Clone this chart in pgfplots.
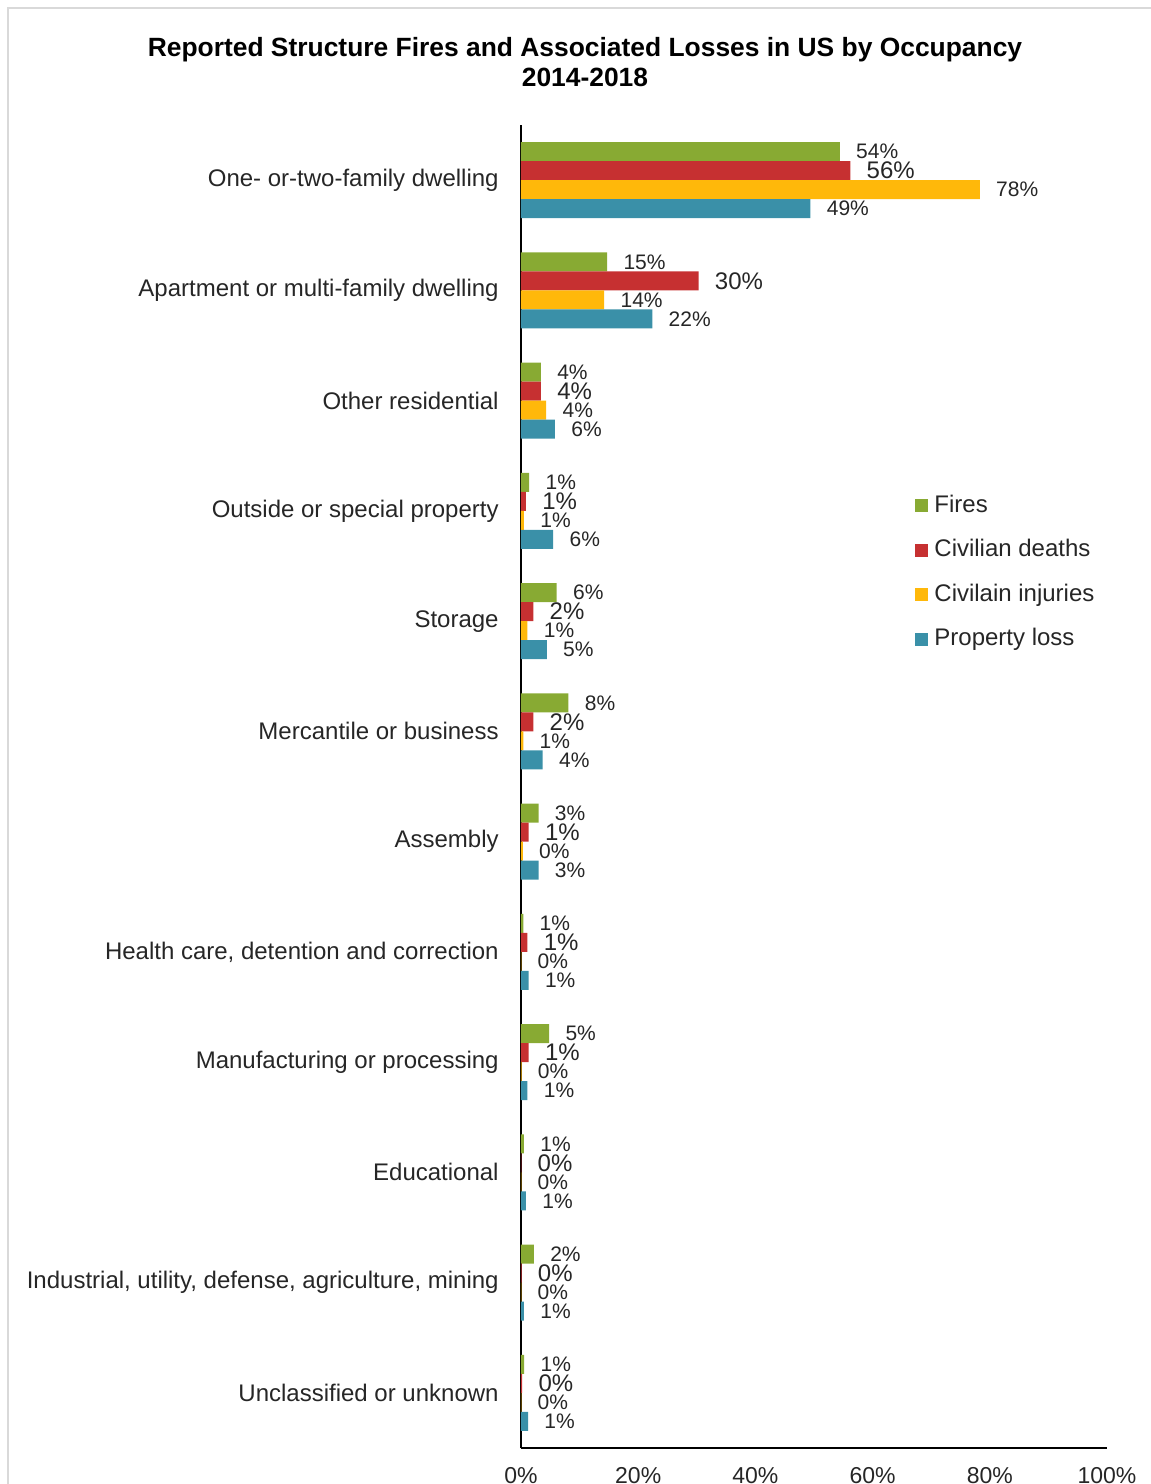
\documentclass[border=0pt]{standalone}
\usepackage{fontspec}
\setmainfont{Liberation Sans}
\usepackage{pgfplots}
\usepackage{pgfplotstable}
\pgfplotsset{compat=1.18}
\definecolor{cF}{HTML}{88AA33}
\definecolor{cD}{HTML}{C63031}
\definecolor{cI}{HTML}{FFB80A}
\definecolor{cP}{HTML}{3A90A8}
\definecolor{txt}{HTML}{262626}
\definecolor{frame}{HTML}{D9D9D9}

\pgfplotstableread{
x y l
54.4 11.2585 54
14.7 10.2585 15
3.4 9.2585 4
1.4 8.2585 1
6.1 7.2585 6
8.1 6.2585 8
3.0 5.2585 3
0.4 4.2585 1
4.8 3.2585 5
0.5 2.2585 1
2.2 1.2585 2
0.55 0.2585 1
}\fires
\pgfplotstableread{
x y l
56.2 11.0862 56
30.3 10.0862 30
3.4 9.0862 4
0.85 8.0862 1
2.1 7.0862 2
2.1 6.0862 2
1.3 5.0862 1
1.1 4.0862 1
1.3 3.0862 1
0.05 2.0862 0
0.1 1.0862 0
0.2 0.0862 0
}\deaths
\pgfplotstableread{
x y l
78.3 10.9138 78
14.2 9.9138 14
4.3 8.9138 4
0.5 7.9138 1
1.1 6.9138 1
0.4 5.9138 1
0.3 4.9138 0
0.05 3.9138 0
0.1 2.9138 0
0.05 1.9138 0
0.05 0.9138 0
0.05 -0.0862 0
}\injuries
\pgfplotstableread{
x y l
49.4 10.7415 49
22.4 9.7415 22
5.8 8.7415 6
5.5 7.7415 6
4.4 6.7415 5
3.7 5.7415 4
3.0 4.7415 3
1.3 3.7415 1
1.1 2.7415 1
0.85 1.7415 1
0.5 0.7415 1
1.2 -0.2585 1
}\property

\pgfplotsset{sqlegend/.style={legend image code/.code={\fill[##1,draw=none] (0pt,-3.25pt) rectangle (6.5pt,3.25pt);}}}

\begin{document}
\begin{tikzpicture}
\useasboundingbox (0,0) rectangle (575.5pt,-742pt);
\draw[color=frame, line width=1pt] (4pt,-4pt) rectangle (600pt,-800pt);
\node[anchor=base, font=\bfseries\fontsize{13.2}{15}\selectfont] at (292.5pt,-28pt) {Reported Structure Fires and Associated Losses in US by Occupancy};
\node[anchor=base, font=\bfseries\fontsize{13.2}{15}\selectfont] at (292.5pt,-43pt) {2014-2018};
\begin{axis}[
  at={(260.5pt,-724pt)}, anchor=south west,
  scale only axis, width=293pt, height=661.5pt,
  xmin=0, xmax=100, ymin=-0.5, ymax=11.5,
  clip=false,
  xbar, bar width=9.5pt, bar shift=0pt,
  axis lines=left, axis line style={-, line width=1pt, black},
  major tick length=0pt,
  xtick={0,20,40,60,80,100},
  xticklabel={\pgfmathprintnumber{\tick}\%},
  /pgf/number format/assume math mode=true,
  xticklabel style={font=\fontsize{11.5}{13}\selectfont, text=txt, anchor=north, inner sep=0pt, yshift=-9.5pt},
  ytick={0,...,11},
  yticklabels={Unclassified or unknown, {Industrial, utility, defense, agriculture, mining}, Educational, Manufacturing or processing, {Health care, detention and correction}, Assembly, Mercantile or business, Storage, Outside or special property, Other residential, Apartment or multi-family dwelling, One- or-two-family dwelling},
  yticklabel style={font=\fontsize{12}{14}\selectfont, text=txt, anchor=east, inner sep=0pt, xshift=-11pt},
  point meta=explicit symbolic,
  nodes near coords={\pgfplotspointmeta\%},
  every node near coord/.append style={anchor=west, inner sep=0pt, xshift=8pt, text=txt, font=\fontsize{10.5}{12}\selectfont},
  legend style={at={(0.6724,0.7211)}, anchor=north west, draw=none, fill=none, inner sep=0pt,
    row sep=10.75pt, column sep=3pt, font=\fontsize{12}{14}\selectfont,
    nodes={inner sep=0pt, text height=9pt, text depth=2.5pt, text=txt}},
  legend cell align=left,
]
\addplot[fill=cF, draw=none, sqlegend] table[x=x, y=y, meta=l] {\fires};
\addlegendentry{Fires}
\addplot[fill=cD, draw=none, sqlegend, every node near coord/.append style={font=\fontsize{12}{14}\selectfont}] table[x=x, y=y, meta=l] {\deaths};
\addlegendentry{Civilian deaths}
\addplot[fill=cI, draw=none, sqlegend] table[x=x, y=y, meta=l] {\injuries};
\addlegendentry{Civilain injuries}
\addplot[fill=cP, draw=none, sqlegend] table[x=x, y=y, meta=l] {\property};
\addlegendentry{Property loss}
\end{axis}
\end{tikzpicture}
\end{document}
